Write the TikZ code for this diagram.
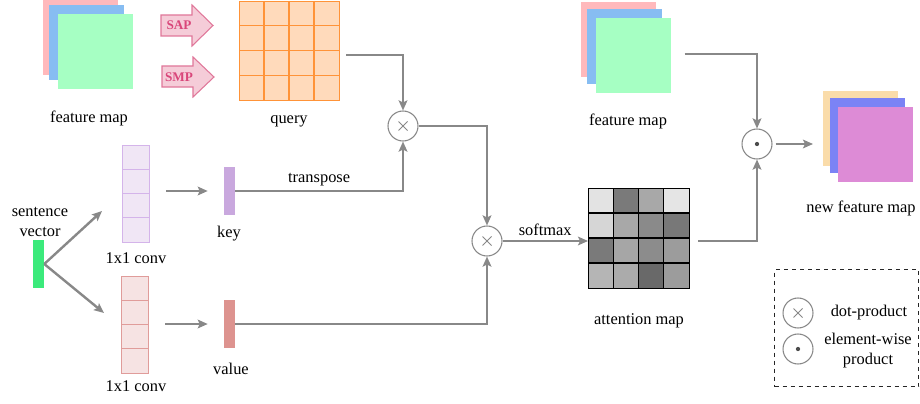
\documentclass[tikz,border=0pt]{standalone}
\usepackage{fontspec}
\setmainfont{Liberation Serif}
\usetikzlibrary{arrows.meta,calc}
\definecolor{fmpink}{HTML}{FFB9BC}
\definecolor{fmblue}{HTML}{87BDF2}
\definecolor{fmgreen}{HTML}{A6FFC3}
\definecolor{nforange}{HTML}{FADCAA}
\definecolor{nfblue}{HTML}{7B83F5}
\definecolor{nfviolet}{HTML}{DD8BD6}
\definecolor{poolfill}{HTML}{F5CCD8}
\definecolor{pooldraw}{HTML}{E0779A}
\definecolor{pooltext}{HTML}{D9467A}
\definecolor{qfill}{HTML}{FFDABB}
\definecolor{qdraw}{HTML}{FF9338}
\definecolor{kfill}{HTML}{F0E6F5}
\definecolor{kdraw}{HTML}{D4B4EA}
\definecolor{kbar}{HTML}{C9A8DE}
\definecolor{vfill}{HTML}{F6E3E3}
\definecolor{vdraw}{HTML}{E09C9A}
\definecolor{vbar}{HTML}{DD938F}
\definecolor{svgreen}{HTML}{3BEA7B}
\definecolor{linegray}{HTML}{888888}
\begin{document}
\begin{tikzpicture}[x=0.75pt,y=-0.75pt,
  font=\fontsize{12.3}{15}\selectfont,
  sq/.style={draw=none,minimum width=56.25pt,minimum height=56.25pt,inner sep=0pt,anchor=north west},
  bar/.style={draw=none,minimum width=8.25pt,minimum height=36pt,inner sep=0pt},
  lbl/.style={inner sep=0pt,align=center},
  conn/.style={draw=linegray,line width=1.8pt},
  arr/.style={conn,-{Stealth[length=7.5pt,width=6.5pt,inset=1.5pt]}},
  opcirc/.style={circle,draw=linegray,line width=0.8pt,minimum size=22.5pt,inner sep=0pt,fill=white},
  crossop/.style={opcirc,path picture={\draw[linegray,line width=0.6pt]
      ($(path picture bounding box.center)+(-4.5,-4.5)$) -- ($(path picture bounding box.center)+(4.5,4.5)$)
      ($(path picture bounding box.center)+(-4.5,4.5)$) -- ($(path picture bounding box.center)+(4.5,-4.5)$);}},
  dotop/.style={opcirc,path picture={\fill[black!70] (path picture bounding box.center) circle (1.6pt);}},
  poolarrow/.style={fill=poolfill,draw=pooldraw,line width=0.8pt,line join=miter},
  pooltxt/.style={inner sep=0pt,text=pooltext,font=\fontsize{9.9}{11}\selectfont\bfseries}
]
\useasboundingbox (0,0) rectangle (920,403);

% ---- left feature map
\node[sq,fill=fmpink] (fa1) at (43,0) {};
\node[sq,fill=fmblue] (fa2) at (49,5) {};
\node[sq,fill=fmgreen] (fa3) at (58,14) {};
\node[lbl] (fmlbl) at (89,118) {feature map};

% ---- SAP / SMP arrows
\draw[poolarrow] (161,15) -- (192,15) -- (192,5) -- (213,25.5) -- (192,46) -- (192,36) -- (161,36) -- cycle;
\node[pooltxt] (sap) at (179,25.5) {SAP};
\draw[poolarrow] (162,66) -- (193,66) -- (193,57) -- (214,77) -- (193,97) -- (193,87) -- (162,87) -- cycle;
\node[pooltxt] (smp) at (179,77) {SMP};

% ---- query grid
\node[draw=qdraw,fill=qfill,line width=1pt,minimum width=75pt,minimum height=74.25pt,inner sep=0pt,anchor=north west] (query) at (239,1) {};
\foreach \k in {1,2,3} {
  \draw[qdraw,line width=1pt] (239+25*\k,1) -- (239+25*\k,100);
  \draw[qdraw,line width=1pt] (239,1+24.75*\k) -- (339,1+24.75*\k);
}
\node[lbl] (qlbl) at (289,121) {query};

% ---- sentence vector
\node[bar,fill=svgreen] (sv) at (38.5,264) {};
\node[lbl] (svlbl) at (40,222) {sentence\\vector};
\coordinate (t1) at (102,211);
\coordinate (t2) at (104,313);

% ---- conv columns
\node[draw=kdraw,fill=kfill,line width=1.1pt,minimum width=20.25pt,minimum height=72.75pt,inner sep=0pt,anchor=north west] (conv1) at (122,145) {};
\foreach \k in {1,2,3} \draw[kdraw,line width=1.1pt] (122,145+24.25*\k) -- (149,145+24.25*\k);
\node[lbl] (c1lbl) at (136,258) {1x1 conv};
\node[draw=vdraw,fill=vfill,line width=1.1pt,minimum width=20.25pt,minimum height=72.75pt,inner sep=0pt,anchor=north west] (conv2) at (121,276) {};
\foreach \k in {1,2,3} \draw[vdraw,line width=1.1pt] (121,276+24.25*\k) -- (148,276+24.25*\k);
\node[lbl] (c2lbl) at (136,386) {1x1 conv};

% ---- key / value
\node[bar,fill=kbar] (key) at (229.5,191) {};
\node[lbl] (keylbl) at (229,234) {key};
\node[bar,fill=vbar] (value) at (229.5,324) {};
\node[lbl] (vallbl) at (231,369) {value};

% ---- operators
\node[crossop] (c1) at (403,126) {};
\node[crossop] (c2) at (487,241) {};
\node[dotop] (c3) at (757,144) {};

% ---- attention map
\foreach \v [count=\i from 0] in {11,52,34,10, 16,34,46,53, 52,35,45,39, 29,33,59,39} {
  \pgfmathtruncatemacro{\col}{mod(\i,4)}
  \pgfmathtruncatemacro{\row}{int(\i/4)}
  \fill[black!\v] (588+25.25*\col,188+25*\row) rectangle ++(25.25,25);
}
\node[draw=black,line width=0.9pt,minimum width=75.75pt,minimum height=75pt,inner sep=0pt,anchor=north west] (att) at (588,188) {};
\foreach \k in {1,2,3} {
  \draw[black,line width=0.9pt] (588+25.25*\k,188) -- (588+25.25*\k,288);
  \draw[black,line width=0.9pt] (588,188+25*\k) -- (689,188+25*\k);
}
\node[lbl] (attlbl) at (639,321) {attention map};

% ---- right feature map
\node[sq,fill=fmpink] (fb1) at (581,2) {};
\node[sq,fill=fmblue] (fb2) at (587,9) {};
\node[sq,fill=fmgreen] (fb3) at (596,18) {};
\node[lbl] (fm2lbl) at (628,121) {feature map};

% ---- new feature map
\node[sq,fill=nforange] (nf1) at (823,91) {};
\node[sq,fill=nfblue] (nf2) at (830,98) {};
\node[sq,fill=nfviolet] (nf3) at (838,107) {};
\node[lbl] (nflbl) at (861,208) {new feature map};

% ---- connectors
\draw[arr] (sv.east) -- (t1);
\draw[arr] (sv.east) -- (t2);
\draw[arr] ([xshift=12pt]conv1.east |- key.east) -- ([xshift=-12pt]key.west);
\draw[arr] ([xshift=12pt]conv2.east |- value.east) -- ([xshift=-12pt]value.west);
\draw[arr] ($(query.east)+(6,4)$) -| (c1.north);
\draw[arr] (key.east) -| node[pos=0.25,above=3pt,lbl] (tr) {transpose} (c1.south);
\draw[arr] (c1.east) -| (c2.north);
\draw[arr] (value.east) -| (c2.south);
\draw[arr] (c2.east) -- node[above=3pt,lbl] (sm) {softmax} (c2.east -| att.west);
\draw[arr] ($(c2.east -| att.east)+(8,0)$) -| (c3.south);
\draw[arr] ($(fb3.east)+(13,-1.5)$) -| (c3.north);
\draw[arr] ($(c3.east)+(3,0)$) -- ($(c3.east -| nf1.west)+(-10,0)$);

% ---- legend
\node[draw=black!85,dashed,line width=0.8pt,minimum width=108pt,minimum height=87.75pt,inner sep=0pt,anchor=north west] (legend) at (774,269) {};
\node[crossop] (lg1) at (798,313) {};
\node[dotop] (lg2) at (798,349) {};
\node[lbl] (lg1lbl) at (869,313) {dot-product};
\node[lbl] (lg2lbl) at (868,351) {element-wise\\product};
\end{tikzpicture}
\end{document}
